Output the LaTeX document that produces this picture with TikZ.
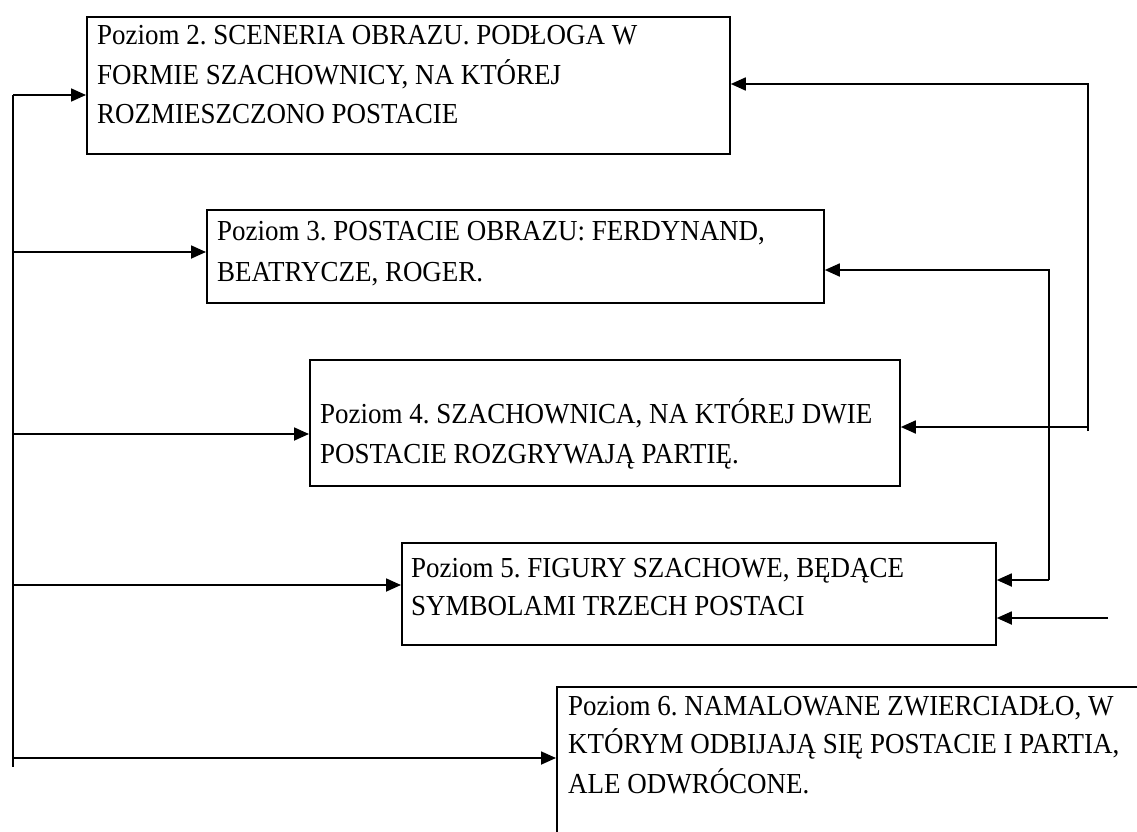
\documentclass[tikz,border=0pt]{standalone}
\usepackage{fontspec}
\setmainfont{Liberation Serif}[FakeStretch=0.93]
\usetikzlibrary{arrows.meta}
\frenchspacing
\tikzset{
  box/.style={draw=black, line width=1.8pt, rectangle, inner sep=0pt, anchor=north west},
  txt/.style={anchor=base west, inner sep=0pt, font=\fontsize{29}{34}\selectfont},
  conn/.style={draw=black, line width=1.8pt},
  arr/.style={conn, -{Triangle[length=15pt,width=13pt]}}
}
\begin{document}
\begin{tikzpicture}[x=1pt,y=-1pt]
\useasboundingbox (0,0) rectangle (1137,832);
\fill[white] (0,0) rectangle (1137,832);

% boxes
\node[box, minimum width=643pt, minimum height=137pt] (b2) at (86,16) {};
\node[box, minimum width=617pt, minimum height=93pt] (b3) at (206,209) {};
\node[box, minimum width=590pt, minimum height=126pt] (b4) at (309,359) {};
\node[box, minimum width=594pt, minimum height=102pt] (b5) at (401,542) {};
\node[box, minimum width=640pt, minimum height=200pt] (b6) at (556,686) {};

% texts
\node[txt] (t2a) at (97,45) {Poziom 2. SCENERIA OBRAZU. PODŁOGA W};
\node[txt] (t2b) at (97,85) {FORMIE SZACHOWNICY, NA KTÓREJ};
\node[txt] (t2c) at (97,124) {ROZMIESZCZONO POSTACIE};
\node[txt] (t3a) at (217,240) {Poziom 3. POSTACIE OBRAZU: FERDYNAND,};
\node[txt] (t3b) at (217,281) {BEATRYCZE, ROGER.};
\node[txt] (t4a) at (320,423) {Poziom 4. SZACHOWNICA, NA KTÓREJ DWIE};
\node[txt] (t4b) at (320,463) {POSTACIE ROZGRYWAJĄ PARTIĘ.};
\node[txt] (t5a) at (411,577) {Poziom 5. FIGURY SZACHOWE, BĘDĄCE};
\node[txt] (t5b) at (411,615) {SYMBOLAMI TRZECH POSTACI};
\node[txt] (t6a) at (568,715) {Poziom 6. NAMALOWANE ZWIERCIADŁO, W};
\node[txt] (t6b) at (568,753) {KTÓRYM ODBIJAJĄ SIĘ POSTACIE I PARTIA,};
\node[txt] (t6c) at (568,793) {ALE ODWRÓCONE.};

% left trunk
\coordinate (L2) at (13,95);
\coordinate (L3) at (13,252);
\coordinate (L4) at (13,434);
\coordinate (L5) at (13,585);
\coordinate (L6) at (13,758);
\coordinate (Lend) at (13,767);
\draw[conn] (L2) -- (Lend);
\draw[arr] (L2) -- (L2 -| b2.west);
\draw[arr] (L3) -- (L3 -| b3.west);
\draw[arr] (L4) -- (L4 -| b4.west);
\draw[arr] (L5) -- (L5 -| b5.west);
\draw[arr] (L6) -- (L6 -| b6.west);

% outer right loop
\coordinate (R1) at (1088,84);
\coordinate (R4) at (1088,427);
\coordinate (Rend) at (1088,431);
\draw[arr] (Rend) -- (R1) -- (R1 -| b2.east);
\draw[arr] (R4) -- (R4 -| b4.east);

% middle right loop
\coordinate (M3) at (1049,270);
\coordinate (M5) at (1049,580);
\draw[arr] (M5) -- (M3) -- (M3 -| b3.east);
\draw[arr] (M5) -- (M5 -| b5.east);

% separate arrow
\coordinate (S1) at (1108,618);
\draw[arr] (S1) -- (S1 -| b5.east);
\end{tikzpicture}
\end{document}
